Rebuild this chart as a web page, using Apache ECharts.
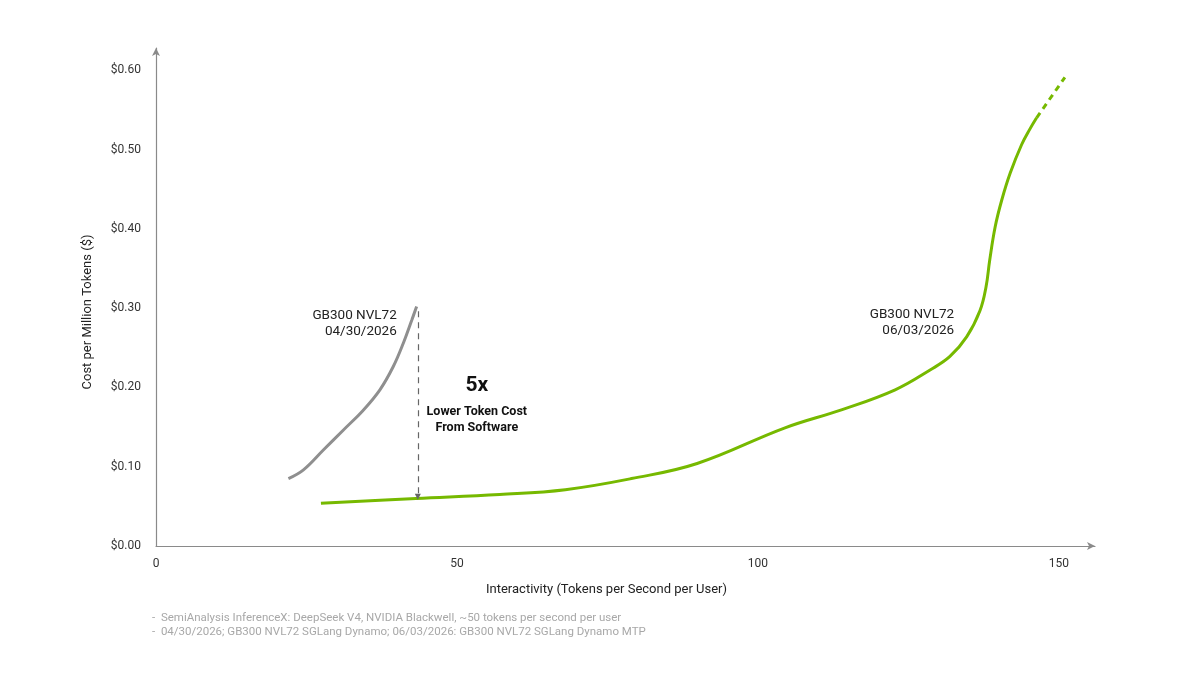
<!DOCTYPE html>
<html>
<head>
<meta charset="utf-8">
<script src="https://cdn.jsdelivr.net/npm/echarts@6/dist/echarts.min.js"></script>
<style>
  html, body { margin: 0; padding: 0; background: #fff; }
  #chart { width: 1200px; height: 675px; }
</style>
</head>
<body>
<div id="chart"></div>
<script>
// data
var oldX = [22.0, 24.5, 27.8, 31.1, 34.4, 37.2, 39.4, 41.1, 42.5, 43.3];
var oldY = [0.085, 0.096, 0.121, 0.146, 0.171, 0.197, 0.226, 0.256, 0.285, 0.302];

var newX = [27.4, 43.2, 57.1, 68.0, 79.0, 89.9, 104.5, 114.0, 122.8, 128.6, 131.9, 134.7, 136.9, 137.9, 138.5, 139.4, 140.5, 141.9, 143.8, 145.2, 146.3];
var newY = [0.054, 0.060, 0.065, 0.071, 0.085, 0.104, 0.149, 0.172, 0.197, 0.222, 0.239, 0.264, 0.297, 0.327, 0.360, 0.402, 0.436, 0.470, 0.506, 0.526, 0.540];

var extX = [146.3, 151.0];
var extY = [0.540, 0.591];

var xTicks = [0, 50, 100, 150];
var yTicks = ['$0.00', '$0.10', '$0.20', '$0.30', '$0.40', '$0.50', '$0.60'];

var notes = [
  '-  SemiAnalysis InferenceX: DeepSeek V4, NVIDIA Blackwell, ~50 tokens per second per user',
  '-  04/30/2026; GB300 NVL72 SGLang Dynamo; 06/03/2026: GB300 NVL72 SGLang Dynamo MTP'
];

function pairs(xs, ys) {
  return xs.map(function (x, i) { return [x, ys[i]]; });
}

var font = 'Roboto, "DejaVu Sans", sans-serif';
var green = '#76b900';

var myChart = echarts.init(document.getElementById('chart'));
var option = {
  backgroundColor: '#fff',
  animation: false,
  textStyle: { fontFamily: font },
  grid: { left: 156, right: 105, top: 48, bottom: 129 },
  xAxis: {
    type: 'value',
    min: 0,
    max: 156,
    interval: 50,
    name: 'Interactivity (Tokens per Second per User)',
    nameLocation: 'middle',
    nameGap: 37,
    nameTextStyle: { fontSize: 13, color: '#222', padding: [0, 38, 0, 0] },
    axisLine: { show: true, symbol: ['none', 'arrow'], symbolSize: [6, 8], lineStyle: { color: '#8a8a8a', width: 1.2 } },
    axisTick: { show: false },
    splitLine: { show: false },
    axisLabel: {
      color: '#333', fontSize: 12, margin: 12, showMaxLabel: false,
      formatter: function (v) { return xTicks.indexOf(v) >= 0 ? String(v) : ''; }
    }
  },
  yAxis: {
    type: 'value',
    min: 0,
    max: 0.628,
    interval: 0.1,
    name: 'Cost per Million Tokens ($)',
    nameLocation: 'middle',
    nameGap: 62,
    nameRotate: 90,
    nameTextStyle: { fontSize: 13, color: '#222', padding: [0, 30, 0, 0] },
    axisLine: { show: true, symbol: ['none', 'arrow'], symbolSize: [6, 8], lineStyle: { color: '#8a8a8a', width: 1.2 } },
    axisTick: { show: false },
    splitLine: { show: false },
    axisLabel: {
      color: '#333', fontSize: 12, margin: 15, showMaxLabel: false,
      formatter: function (v) {
        var i = Math.round(v * 10);
        return Math.abs(v * 10 - i) < 1e-6 ? yTicks[i] : '';
      }
    }
  },
  series: [
    {
      name: 'GB300 NVL72 04/30/2026',
      type: 'line',
      smooth: 0.4,
      showSymbol: false,
      data: pairs(oldX, oldY),
      lineStyle: { color: '#8f8f8f', width: 3 },
      markLine: {
        silent: true,
        symbol: ['none', 'triangle'],
        symbolSize: [6, 6],
        label: { show: false },
        lineStyle: { color: '#666', type: [6, 5], width: 1.2 },
        data: [[{ coord: [43.5, 0.296] }, { coord: [43.5, 0.062] }]]
      },
      markPoint: {
        symbol: 'circle',
        symbolSize: 0,
        silent: true,
        data: [
          {
            coord: [40.0, 0.281],
            label: { show: true, formatter: 'GB300 NVL72\n04/30/2026', align: 'right', verticalAlign: 'middle', color: '#222', fontSize: 13.5, lineHeight: 16 }
          },
          {
            coord: [53.3, 0.202],
            label: { show: true, formatter: '5x', align: 'center', verticalAlign: 'middle', color: '#111', fontSize: 21, fontWeight: 'bold' }
          },
          {
            coord: [53.3, 0.159],
            label: { show: true, formatter: 'Lower Token Cost\nFrom Software', align: 'center', verticalAlign: 'middle', color: '#111', fontSize: 12.5, fontWeight: 'bold', lineHeight: 16 }
          }
        ]
      }
    },
    {
      name: 'GB300 NVL72 06/03/2026',
      type: 'line',
      smooth: 0.4,
      showSymbol: false,
      data: pairs(newX, newY),
      lineStyle: { color: green, width: 3 },
      markPoint: {
        symbol: 'circle',
        symbolSize: 0,
        silent: true,
        data: [
          {
            coord: [132.6, 0.282],
            label: { show: true, formatter: 'GB300 NVL72\n06/03/2026', align: 'right', verticalAlign: 'middle', color: '#222', fontSize: 13.5, lineHeight: 16 }
          }
        ]
      }
    },
    {
      name: 'extension',
      type: 'line',
      showSymbol: false,
      data: pairs(extX, extY),
      lineStyle: { color: green, width: 3, type: [6, 5] }
    }
  ],
  graphic: [
    {
      type: 'text',
      left: 152,
      top: 611,
      style: { text: notes.join('\n'), fill: '#a8a8a8', fontSize: 11.5, lineHeight: 14, fontFamily: font }
    }
  ]
};
myChart.setOption(option);
</script>
</body>
</html>
